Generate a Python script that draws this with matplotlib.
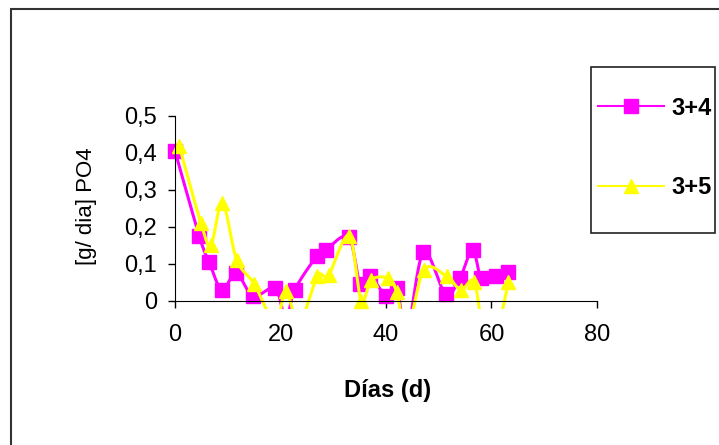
import numpy as np
import matplotlib
matplotlib.use('Agg')
from matplotlib import pyplot as plt
from matplotlib.lines import Line2D
from matplotlib.patches import Rectangle
from matplotlib.ticker import FuncFormatter

plt.rcParams['font.family'] = ['Liberation Sans', 'DejaVu Sans']

# data (negative values fall below the plot and are clipped)
dias_34 = [0, 4.6, 6.5, 8.9, 11.6, 14.8, 19, 21, 22.7, 26.9, 28.6, 32.9,
           35.1, 37, 40, 42, 44, 47.1, 51.3, 54, 56.4, 58.1, 60.8, 63.2]
po4_34 = [0.405, 0.175, 0.104, 0.03, 0.075, 0.013, 0.034, -0.05, 0.03, 0.121,
          0.138, 0.172, 0.046, 0.067, 0.014, 0.034, -0.08, 0.131, 0.019, 0.061,
          0.138, 0.061, 0.067, 0.077]

dias_35 = [0.8, 4.9, 6.8, 9.0, 11.7, 15.0, 19, 21, 23.5, 27, 29.1, 33,
           35.3, 37.2, 40.4, 42, 44, 47.2, 51.5, 54.2, 56.7, 58.5, 61, 63.2]
po4_35 = [0.419, 0.211, 0.151, 0.265, 0.111, 0.046, -0.06, 0.028, -0.06, 0.066,
          0.070, 0.176, 0.0, 0.057, 0.061, 0.025, -0.08, 0.084, 0.066, 0.030,
          0.052, -0.08, -0.08, 0.052]

labels = ['3+4', '3+5']
colors = ['#FF00FF', '#FFFF00']
markers = ['s', '^']
x_ticks = [0, 20, 40, 60, 80]
y_ticks = [0, 0.1, 0.2, 0.3, 0.4, 0.5]


def smooth(x, y, n=30):
    # catmull-rom style smoothing like the spreadsheet "smoothed line"
    p = np.column_stack([x, y]).astype(float)
    pts = np.vstack([p[0], p, p[-1]])
    out = []
    t = np.linspace(0, 1, n)[:, None]
    for i in range(1, len(pts) - 2):
        p0, p1, p2, p3 = pts[i - 1], pts[i], pts[i + 1], pts[i + 2]
        c1 = p1 + (p2 - p0) / 6
        c2 = p2 - (p3 - p1) / 6
        seg = ((1 - t) ** 3) * p1 + 3 * ((1 - t) ** 2) * t * c1 \
            + 3 * (1 - t) * t ** 2 * c2 + t ** 3 * p2
        out.append(seg)
    out = np.vstack(out)
    return out[:, 0], out[:, 1]


fig = plt.figure(figsize=(7.19, 4.45), dpi=100)
fig.patches.append(Rectangle((11 / 719, -0.2), 1.2, 0.2 + 1 - 9 / 445,
                             transform=fig.transFigure, fill=False,
                             ec='#333333', lw=1.5))

ax = fig.add_axes([0.2214, 0.3056, 0.6089, 0.434])

for xs, ys, c, m in [(dias_34, po4_34, colors[0], markers[0]),
                     (dias_35, po4_35, colors[1], markers[1])]:
    sx, sy = smooth(xs, ys)
    ax.plot(sx, sy, color=c, lw=2.2)
    ax.plot(xs, ys, ls='none', marker=m, ms=10.5, color=c, mec=c)

ax.set_xlim(-3, 80)
ax.set_ylim(-0.022, 0.5)
ax.spines['top'].set_visible(False)
ax.spines['right'].set_visible(False)
ax.spines['left'].set_position(('data', 0))
ax.spines['bottom'].set_position(('data', 0))
ax.spines['left'].set_bounds(0, 0.5)
ax.spines['bottom'].set_bounds(0, 80)
ax.set_xticks(x_ticks)
ax.set_yticks(y_ticks)
ax.yaxis.set_major_formatter(FuncFormatter(
    lambda v, p: '0' if abs(v) < 1e-9 else f'{v:.1f}'.replace('.', ',')))
ax.tick_params(axis='x', direction='out', length=5, width=1, pad=12, labelsize=17)
ax.tick_params(axis='y', direction='out', length=5, width=1, pad=8, labelsize=17)

ax.set_xlabel('Días (d)', fontsize=17, fontweight='bold')
ax.xaxis.set_label_coords(0.5226, -0.36)
ax.set_ylabel('[g/ dia] PO4', fontsize=16, va='center')
ax.yaxis.set_label_coords(-0.1650, 0.533)

# legend box
fig.patches.append(Rectangle((591 / 719, 1 - 233 / 445), 124 / 719, 166 / 445,
                             transform=fig.transFigure, fill=False,
                             ec='#222222', lw=1.2))
handles = [Line2D([], [], color=colors[i], marker=markers[i], ms=10, lw=1.5)
           for i in range(2)]
fig.legend(handles, labels, frameon=False, loc='center left',
           bbox_to_anchor=(591 / 719, 1 - 148 / 445), prop={'weight': 'bold', 'size': 17},
           handlelength=2.8, handletextpad=0.3, labelspacing=2.4,
           borderpad=0, borderaxespad=0.3)

fig.savefig('out.png', dpi=100)
